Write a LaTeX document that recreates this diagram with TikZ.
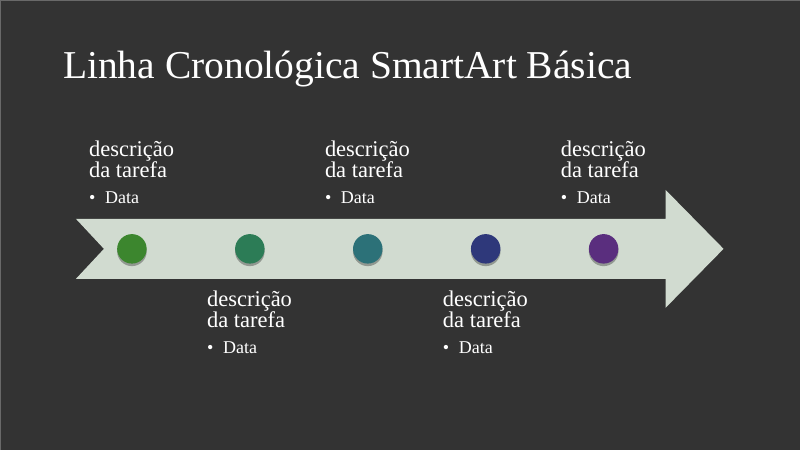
\documentclass[tikz,border=0pt]{standalone}
\usepackage{fontspec}
\setmainfont{Liberation Serif}

\definecolor{slidebg}{RGB}{51,51,51}
\definecolor{slideedge}{RGB}{105,105,105}
\definecolor{arrowfill}{RGB}{209,219,208}
\definecolor{dotA}{RGB}{60,134,46}
\definecolor{dotB}{RGB}{44,124,86}
\definecolor{dotC}{RGB}{44,113,120}
\definecolor{dotD}{RGB}{46,56,122}
\definecolor{dotE}{RGB}{90,46,126}

\tikzset{
  dot/.style={circle, minimum size=29.5pt, inner sep=0pt},
  heading/.style={anchor=base west, inner sep=0pt, text=white, font=\fontsize{22.5}{22.5}\selectfont},
  item/.style={anchor=base west, inner sep=0pt, text=white, font=\fontsize{18}{18}\selectfont},
}

\begin{document}
\begin{tikzpicture}[x=1pt,y=-1pt]

    % Slide background
    \fill[slidebg] (0,0) rectangle (800,450);
    \draw[slideedge, line width=1pt] (0.5,450) -- (0.5,0.5) -- (800,0.5);
    \useasboundingbox (0,0) rectangle (800,450);

    % Title
    \node[anchor=base west, inner sep=0pt, text=white, font=\fontsize{39.5}{39.5}\selectfont] (title) at (63,79) {Linha Cronológica SmartArt Básica};

    % Timeline arrow
    \fill[arrowfill] (76,219) -- (666,219) -- (666,190) -- (724,249) -- (666,308)
        -- (666,279) -- (76,279) -- (104,249) -- cycle;

    % Milestones
    \foreach \x/\c [count=\i] in {132/dotA, 250/dotB, 368/dotC, 486/dotD, 604/dotE} {
        \fill[black, opacity=0.3] (\x,251.5) circle (14.8);
        \node[dot, fill=\c] (dot\i) at (\x,249) {};
    }

    % Task labels (above and below the arrow)
    \foreach \x/\y/\n in {89/157/a, 325/157/c, 561/157/e, 207/307/b, 443/307/d} {
        \node[heading] (desc\n) at (\x,\y) {descrição};
        \node[heading] (task\n) at (\x,\y+21) {da tarefa};
        \node[item] (bullet\n) at (\x,\y+47) {•};
        \node[item] (date\n) at (\x+16,\y+47) {Data};
    }

\end{tikzpicture}
\end{document}
